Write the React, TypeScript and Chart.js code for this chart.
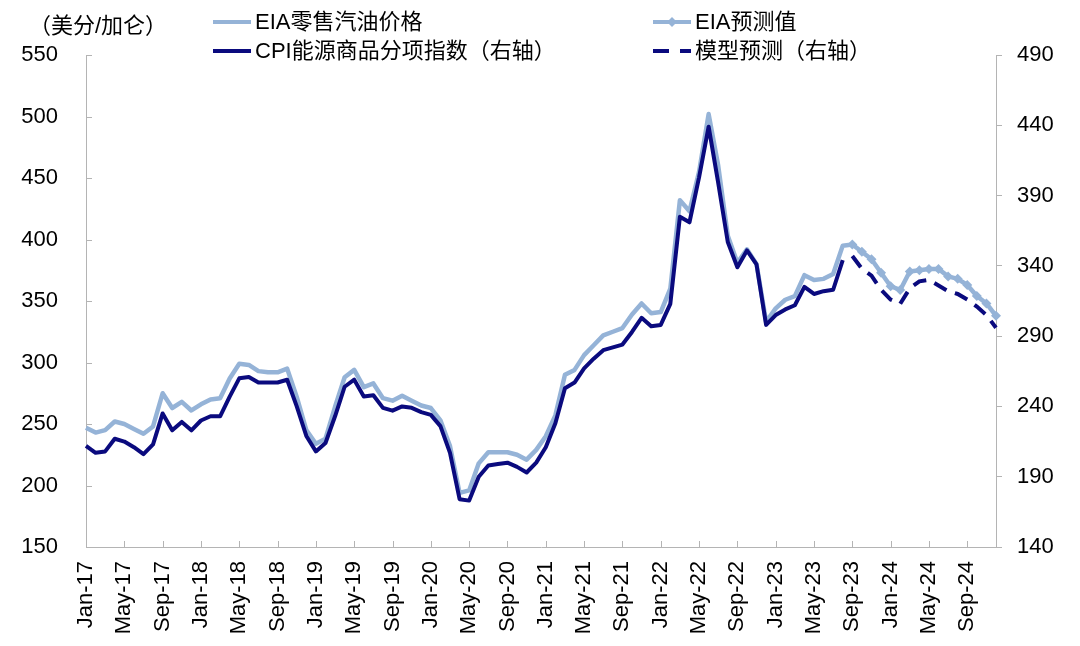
import { useEffect, useRef } from 'react';
import { Chart, registerables } from 'chart.js';

Chart.register(...registerables);

const FONT = "'Liberation Sans', Arial, 'Noto Sans CJK SC', sans-serif";
const LIGHT = '#95B3D7';
const NAVY = '#0A0A7E';
const AXIS = '#B4B4B4';

const categories = [
  'Jan-17','Feb-17','Mar-17','Apr-17','May-17','Jun-17','Jul-17','Aug-17','Sep-17','Oct-17','Nov-17','Dec-17',
  'Jan-18','Feb-18','Mar-18','Apr-18','May-18','Jun-18','Jul-18','Aug-18','Sep-18','Oct-18','Nov-18','Dec-18',
  'Jan-19','Feb-19','Mar-19','Apr-19','May-19','Jun-19','Jul-19','Aug-19','Sep-19','Oct-19','Nov-19','Dec-19',
  'Jan-20','Feb-20','Mar-20','Apr-20','May-20','Jun-20','Jul-20','Aug-20','Sep-20','Oct-20','Nov-20','Dec-20',
  'Jan-21','Feb-21','Mar-21','Apr-21','May-21','Jun-21','Jul-21','Aug-21','Sep-21','Oct-21','Nov-21','Dec-21',
  'Jan-22','Feb-22','Mar-22','Apr-22','May-22','Jun-22','Jul-22','Aug-22','Sep-22','Oct-22','Nov-22','Dec-22',
  'Jan-23','Feb-23','Mar-23','Apr-23','May-23','Jun-23','Jul-23','Aug-23','Sep-23','Oct-23','Nov-23','Dec-23',
  'Jan-24','Feb-24','Mar-24','Apr-24','May-24','Jun-24','Jul-24','Aug-24','Sep-24','Oct-24','Nov-24','Dec-24',
];

// EIA retail gasoline price, cents/gallon (left axis), Jan-17 .. Sep-23
const eiaRetail = [
  247, 243, 245, 252, 250, 246, 242, 248, 275, 263, 268, 261,
  266, 270, 271, 287, 299, 298, 293, 292, 292, 295, 272, 245,
  234, 238, 264, 288, 294, 280, 283, 271, 269, 273, 269, 265,
  263, 253, 232, 194, 196, 218, 227, 227, 227, 225, 221, 229,
  240, 257, 290, 294, 306, 314, 322, 325, 328, 339, 348, 340,
  341, 360, 432, 423, 455, 502, 460, 403, 381, 392, 380, 333,
  344, 351, 354, 371, 367, 368, 372, 395, 396,
];

// EIA forecast (left axis), Sep-23 .. Dec-24
const eiaForecast = [396, 390, 384, 373, 362, 359, 374, 375, 376, 376, 370, 368, 363, 354, 348, 338];

// CPI energy commodities index (right axis), Jan-17 .. Aug-23
const cpiEnergy = [
  212, 207, 208, 217, 215, 211, 206, 213, 235, 223, 229, 223,
  230, 233, 233, 247, 260, 261, 257, 257, 257, 259, 240, 219,
  208, 214, 233, 254, 259, 247, 248, 239, 237, 240, 239, 236,
  234, 226, 207, 174, 173, 190, 198, 199, 200, 197, 193, 200,
  211, 228, 253, 257, 267, 274, 280, 282, 284, 293, 303, 297,
  298, 313, 375, 371, 403, 439, 399, 357, 339, 351, 341, 298,
  305, 309, 312, 325, 320, 322, 323, 344,
];

// Model forecast (right axis), Sep-23 .. Dec-24
const modelForecast = [347, 338, 333, 323, 316, 313, 324, 329, 330, 326, 322, 320, 316, 311, 305, 296];

const leftTicks = [150, 550, 50];
const rightTicks = [140, 490, 50];

const seriesNames = ['EIA零售汽油价格', 'EIA预测值', 'CPI能源商品分项指数（右轴）', '模型预测（右轴）'];
const unitLabel = '（美分/加仑）';

function padTo(values: number[], start: number): (number | null)[] {
  const out: (number | null)[] = categories.map(() => null);
  values.forEach((v, i) => {
    out[start + i] = v;
  });
  return out;
}

const decorPlugin = {
  id: 'decor',
  afterDraw(chart: any) {
    const ctx = chart.ctx as CanvasRenderingContext2D;
    const { left, bottom } = chart.chartArea;
    ctx.save();
    // inward tick marks on x axis (every 4 months)
    ctx.strokeStyle = AXIS;
    ctx.lineWidth = 1;
    const xs = chart.scales.x;
    for (let i = 0; i < categories.length; i += 4) {
      const px = Math.round(xs.getPixelForValue(i)) + 0.5;
      ctx.beginPath();
      ctx.moveTo(px, bottom);
      ctx.lineTo(px, bottom - 6);
      ctx.stroke();
    }
    // inward tick marks on left axis
    const ys = chart.scales.y;
    ys.ticks.forEach((t: any) => {
      const py = Math.round(ys.getPixelForValue(t.value)) + 0.5;
      ctx.beginPath();
      ctx.moveTo(left, py);
      ctx.lineTo(left + 6, py);
      ctx.stroke();
    });

    // unit label
    ctx.fillStyle = '#000';
    ctx.textBaseline = 'middle';
    ctx.textAlign = 'left';
    ctx.font = `22px ${FONT}`;
    ctx.fillText(unitLabel, 29, 27);

    // legend
    ctx.font = `22px ${FONT}`;
    const row1 = 22;
    const row2 = 51;
    const c1 = 213;
    const c2 = 653;
    const sw = 38;

    ctx.lineWidth = 4;
    ctx.lineCap = 'butt';
    ctx.strokeStyle = LIGHT;
    ctx.beginPath();
    ctx.moveTo(c1, row1);
    ctx.lineTo(c1 + sw, row1);
    ctx.stroke();
    ctx.fillText(seriesNames[0], c1 + sw + 4, row1 + 1);

    ctx.strokeStyle = NAVY;
    ctx.beginPath();
    ctx.moveTo(c1, row2);
    ctx.lineTo(c1 + sw, row2);
    ctx.stroke();
    ctx.fillText(seriesNames[2], c1 + sw + 4, row2 + 1);

    ctx.strokeStyle = LIGHT;
    ctx.beginPath();
    ctx.moveTo(c2, row1);
    ctx.lineTo(c2 + sw, row1);
    ctx.stroke();
    ctx.fillStyle = LIGHT;
    ctx.beginPath();
    const dx = c2 + sw / 2;
    ctx.moveTo(dx, row1 - 5);
    ctx.lineTo(dx + 5, row1);
    ctx.lineTo(dx, row1 + 5);
    ctx.lineTo(dx - 5, row1);
    ctx.closePath();
    ctx.fill();
    ctx.fillStyle = '#000';
    ctx.fillText(seriesNames[1], c2 + sw + 4, row1 + 1);

    ctx.strokeStyle = NAVY;
    ctx.setLineDash([16, 11]);
    ctx.beginPath();
    ctx.moveTo(c2, row2);
    ctx.lineTo(c2 + sw, row2);
    ctx.stroke();
    ctx.setLineDash([]);
    ctx.fillText(seriesNames[3], c2 + sw + 4, row2 + 1);

    ctx.restore();
  },
};

export default function App() {
  const ref = useRef<HTMLCanvasElement | null>(null);

  useEffect(() => {
    document.body.style.margin = '0';
    const canvas = ref.current;
    if (!canvas) return;
    const tickFont = { family: FONT, size: 22 };
    const chart = new Chart(canvas, {
      type: 'line',
      data: {
        labels: categories,
        datasets: [
          {
            label: seriesNames[2],
            data: padTo(cpiEnergy, 0),
            yAxisID: 'y1',
            borderColor: NAVY,
            backgroundColor: NAVY,
            borderWidth: 4,
            pointRadius: 0,
            borderJoinStyle: 'round',
            order: 1,
          },
          {
            label: seriesNames[3],
            data: padTo(modelForecast, 80),
            yAxisID: 'y1',
            borderColor: NAVY,
            backgroundColor: NAVY,
            borderWidth: 4,
            borderDash: [14, 9],
            pointRadius: 0,
            order: 2,
          },
          {
            label: seriesNames[0],
            data: padTo(eiaRetail, 0),
            yAxisID: 'y',
            borderColor: LIGHT,
            backgroundColor: LIGHT,
            borderWidth: 4.5,
            pointRadius: 0,
            borderJoinStyle: 'round',
            order: 3,
          },
          {
            label: seriesNames[1],
            data: padTo(eiaForecast, 80),
            yAxisID: 'y',
            borderColor: LIGHT,
            backgroundColor: LIGHT,
            borderWidth: 4.5,
            pointStyle: 'rectRot',
            pointRadius: 5,
            pointBorderWidth: 0,
            pointBackgroundColor: LIGHT,
            borderJoinStyle: 'round',
            order: 4,
          },
        ],
      },
      options: {
        animation: false,
        responsive: false,
        layout: { padding: { top: 55, left: 0, right: 0, bottom: 0 } },
        plugins: {
          legend: { display: false },
          tooltip: { enabled: false },
        },
        scales: {
          x: {
            type: 'category',
            offset: false,
            grid: { display: false, drawTicks: false },
            border: { display: true, color: AXIS, width: 1 },
            ticks: {
              autoSkip: false,
              maxRotation: 90,
              minRotation: 90,
              padding: 14,
              color: '#000',
              font: tickFont,
              callback: (_v: any, i: number) => (i % 4 === 0 ? categories[i] : ''),
            },
            afterFit: (s: any) => {
              s.height = 99;
            },
          },
          y: {
            position: 'left',
            min: leftTicks[0],
            max: leftTicks[1],
            grid: { display: false, drawTicks: false },
            border: { display: true, color: AXIS, width: 1 },
            ticks: { stepSize: leftTicks[2], padding: 28, color: '#000', font: tickFont },
            afterFit: (s: any) => {
              s.width = 86;
            },
          },
          y1: {
            position: 'right',
            min: rightTicks[0],
            max: rightTicks[1],
            grid: { display: true, drawOnChartArea: false, drawTicks: true, tickLength: 6, color: AXIS },
            border: { display: true, color: AXIS, width: 1 },
            ticks: { stepSize: rightTicks[2], padding: 15, color: '#000', font: tickFont },
            afterFit: (s: any) => {
              s.width = 84;
            },
          },
        },
      },
      plugins: [decorPlugin],
    });
    return () => chart.destroy();
  }, []);

  return (
    <div style={{ width: 1080, height: 646, background: '#fff' }}>
      <canvas ref={ref} width={1080} height={646} style={{ display: 'block' }} />
    </div>
  );
}
